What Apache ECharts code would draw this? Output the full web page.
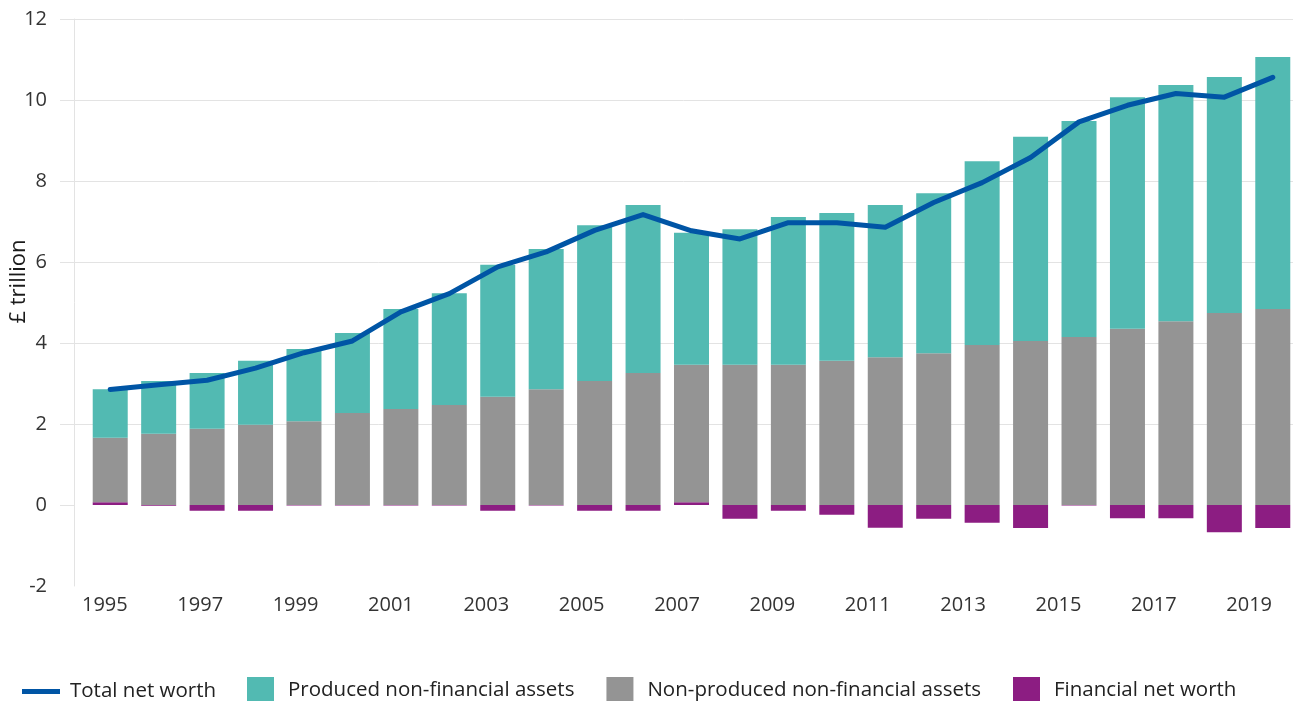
<!DOCTYPE html>
<html>
<head>
<meta charset="utf-8">
<script src="https://cdn.jsdelivr.net/npm/echarts@6.0.0/dist/echarts.min.js"></script>
<style>
  html, body { margin: 0; padding: 0; background: #fff; }
  #main { width: 1293px; height: 701px; }
</style>
</head>
<body>
<div id="main"></div>
<script>
const years = ['1995', '1996', '1997', '1998', '1999', '2000', '2001', '2002', '2003', '2004', '2005', '2006', '2007',
  '2008', '2009', '2010', '2011', '2012', '2013', '2014', '2015', '2016', '2017', '2018', '2019']
const yTicks = [0, 2, 4, 6, 8, 10, 12]

// £ trillion
const financial = [0.07, -0.02, -0.14, -0.14, -0.01, -0.01, -0.01, -0.01, -0.14, -0.01, -0.14, -0.14, 0.07,
  -0.34, -0.14, -0.24, -0.56, -0.34, -0.44, -0.57, -0.01, -0.33, -0.33, -0.67, -0.57]
const nonProduced = [1.59, 1.76, 1.88, 1.98, 2.07, 2.27, 2.37, 2.47, 2.67, 2.86, 3.06, 3.26, 3.39,
  3.46, 3.46, 3.56, 3.65, 3.75, 3.95, 4.05, 4.15, 4.35, 4.54, 4.74, 4.84]
const produced = [1.20, 1.30, 1.38, 1.58, 1.78, 1.98, 2.47, 2.76, 3.26, 3.46, 3.85, 4.15, 3.26,
  3.35, 3.65, 3.65, 3.76, 3.95, 4.54, 5.04, 5.33, 5.72, 5.83, 5.83, 6.22]
const netWorth = [2.85, 2.97, 3.08, 3.38, 3.76, 4.05, 4.77, 5.22, 5.88, 6.25, 6.78, 7.17, 6.77,
  6.57, 6.97, 6.97, 6.86, 7.47, 7.96, 8.58, 9.46, 9.87, 10.16, 10.07, 10.56]

const font = '"Open Sans", "Noto Sans", sans-serif'
const gridColor = '#e3e3e3'
const hiddenY = { type: 'value', min: -2, max: 12, interval: 2, show: false, splitLine: { show: false } }

let myChart = echarts.init(document.getElementById('main'))
myChart.setOption({
  animation: false,
  backgroundColor: '#fff',
  textStyle: { fontFamily: font },
  grid: [
    // 0: y axis + gridlines
    { left: 74, right: 0, top: 19, bottom: 115, outerBoundsMode: 'none', containLabel: false },
    // 1: bars + line
    { left: 86, right: -4, top: 19, bottom: 115, outerBoundsMode: 'none', containLabel: false },
    // 2: year labels
    { left: 81, right: 20, top: 19, bottom: 115, outerBoundsMode: 'none', containLabel: false }
  ],
  legend: [
    {
      data: ['Total net worth'],
      left: 22, top: 681,
      padding: 0,
      icon: 'rect',
      itemWidth: 38, itemHeight: 5,
      textStyle: { fontFamily: font, fontSize: 20.5, color: '#222', padding: [0, 0, 0, 5] }
    },
    {
      data: ['Produced non-financial assets', 'Non-produced non-financial assets', 'Financial net worth'],
      left: 247, top: 677,
      padding: 0,
      icon: 'rect',
      itemWidth: 27, itemHeight: 26,
      itemGap: 32,
      textStyle: { fontFamily: font, fontSize: 20.5, color: '#222', padding: [0, 0, 0, 9] }
    }
  ],
  xAxis: [
    { type: 'category', gridIndex: 0, data: years, show: false },
    {
      type: 'category', gridIndex: 1, data: years,
      axisLine: { show: false }, axisTick: { show: false }, axisLabel: { show: false }, splitLine: { show: false }
    },
    {
      type: 'category', gridIndex: 2, data: years,
      axisLine: { show: false }, axisTick: { show: false }, splitLine: { show: false },
      axisLabel: { interval: 1, fontFamily: font, fontSize: 20, color: '#333', margin: 9 }
    }
  ],
  yAxis: [
    {
      type: 'value',
      gridIndex: 0,
      min: -2,
      max: 12,
      interval: 2,
      name: '£ trillion',
      nameLocation: 'middle',
      nameRotate: 90,
      nameGap: 44,
      nameMoveOverlap: false,
      nameTextStyle: { fontFamily: font, fontSize: 22, color: '#1a1a1a', padding: [0, 0, 0, 42] },
      axisLine: { show: true, lineStyle: { color: gridColor, width: 1 } },
      axisTick: { show: true, length: 14, customValues: yTicks, lineStyle: { color: gridColor } },
      axisLabel: { fontFamily: font, fontSize: 20, color: '#333', margin: 27 },
      splitLine: { show: true, showMinLine: false, lineStyle: { color: gridColor, width: 1 } }
    },
    Object.assign({ gridIndex: 1 }, hiddenY),
    Object.assign({ gridIndex: 2 }, hiddenY)
  ],
  series: [
    {
      name: 'Financial net worth',
      type: 'bar',
      xAxisIndex: 1, yAxisIndex: 1,
      stack: 'total',
      barWidth: 35,
      data: financial,
      itemStyle: { color: '#8C1D82' }
    },
    {
      name: 'Non-produced non-financial assets',
      type: 'bar',
      xAxisIndex: 1, yAxisIndex: 1,
      stack: 'total',
      barWidth: 35,
      data: nonProduced,
      itemStyle: { color: '#949494' }
    },
    {
      name: 'Produced non-financial assets',
      type: 'bar',
      xAxisIndex: 1, yAxisIndex: 1,
      stack: 'total',
      barWidth: 35,
      data: produced,
      itemStyle: { color: '#52BAB2' }
    },
    {
      name: 'Total net worth',
      type: 'line',
      xAxisIndex: 1, yAxisIndex: 1,
      data: netWorth,
      symbol: 'none',
      itemStyle: { color: '#0055A5' },
      lineStyle: { color: '#0055A5', width: 5, cap: 'round', join: 'round' },
      z: 5
    }
  ]
})
</script>
</body>
</html>
